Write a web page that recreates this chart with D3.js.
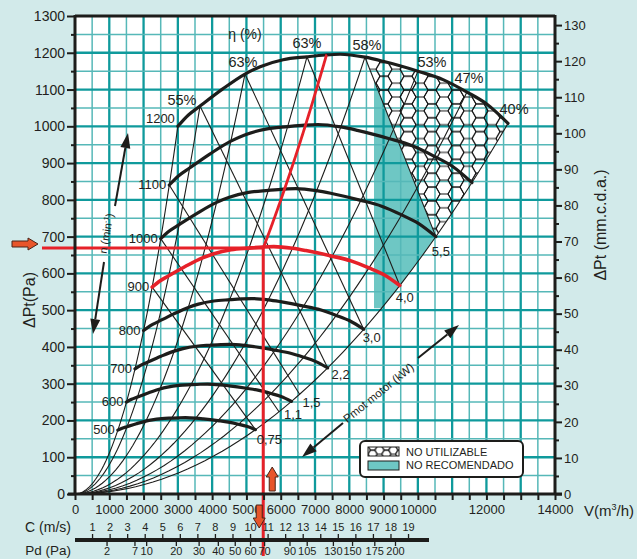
<!DOCTYPE html>
<html><head><meta charset="utf-8">
<script src="https://cdn.jsdelivr.net/npm/d3@7"></script>
<style>
html,body{margin:0;padding:0;background:#d2eaea;}
svg{display:block;font-family:"Liberation Sans",Arial,Helvetica,sans-serif;}
</style></head><body>
<svg id="c" width="637" height="559"></svg>
<script>
// ---------------- DATA ----------------
const speeds = [500, 600, 700, 800, 900, 1000, 1100, 1200];
const baseSpeed = 1200;
// fan curve at 1200 rpm (V m3/h, dPt Pa)
const curveQ = [3000, 3300, 3646, 4300, 4958, 5400, 6070, 6766, 7300, 7730, 8458, 8983, 10004, 10733, 11433, 12017, 12630];
const curveP = [1000, 1030, 1055, 1101, 1142, 1162, 1181, 1189, 1194, 1196, 1188, 1177, 1150, 1127, 1093, 1060, 1008];
// efficiency points on the 1200 rpm curve
const effLabels = ["", "55%", "63%", "63%", "58%", "53%", "47%", "40%"];
const effQ = [3000, 3646, 4958, 6766, 8458, 10004, 11433, 12630];
const effP = [1000, 1055, 1142, 1189, 1188, 1150, 1093, 1008];
// motor power points on the limit curve
const motorLabels = ["0,75", "1,1", "1,5", "2,2", "3,0", "4,0", "5,5"];
const motorQ = [5263, 5950, 6550, 7368, 8420, 9472, 10525];
// power lines: origin node (speed start or efficiency point) -> motor point (same order)
const powerFromSpeed = [900, 1000, 1100, null, null, null, null];
const powerFromEff = [null, null, null, 1, 2, 3, 4];
// selected operating point
const opQ = 5490, opP = 669, opSpeed = 900;
// "no recomendado" zone limits
const notRecQ = 8720, notRecMinP = 505;
// axes
const yTicks = d3.range(0, 1301, 100);
const yTicksR = d3.range(0, 131, 10);
const xTickLabels = [0, 1000, 2000, 3000, 4000, 5000, 6000, 7000, 8000, 9000, 10000, 12000, 14000];
const cTicks = d3.range(1, 20);
const pdTicks = [2, 7, 10, 20, 30, 40, 50, 60, 70, 90, 105, 130, 150, 175, 200];
const flowPerVelocity = 512;   // m3/h per m/s
const halfRho = 0.6;           // Pd = 0.6 C^2
const paPerMm = 9.81;

// ---------------- DRAW ----------------
const svg = d3.select("#c");
const L = 75, R = 555, T = 16, B = 494;
const x = d3.scaleLinear().domain([0, 14000]).range([L, R]);
const y = d3.scaleLinear().domain([0, 1300]).range([B, T]);
const yR = d3.scaleLinear().domain([0, 1300 / paPerMm]).range([B, T]);
const GRID_THICK = "#0f9a9c", GRID_THIN = "#56b8b8", TEAL = "#6ec7c4", RED = "#e62129", INK = "#1d1d1b", TXT = "#231f20";

const defs = svg.append("defs");
defs.append("clipPath").attr("id", "plot").append("rect").attr("x", L).attr("y", T).attr("width", R - L).attr("height", B - T);
function hexPattern(id, r, sw) {
  const h = Math.sqrt(3) * r, w = 3 * r;
  const p = defs.append("pattern").attr("id", id).attr("patternUnits", "userSpaceOnUse").attr("width", w).attr("height", h);
  [[0, 0], [w, 0], [0, h], [w, h], [1.5 * r, h / 2]].forEach(([cx, cy]) => {
    const pts = d3.range(6).map(i => { const a = Math.PI / 3 * i; return [cx + r * Math.cos(a), cy + r * Math.sin(a)]; });
    p.append("polygon").attr("points", pts.map(d => d.join(",")).join(" ")).attr("fill", "none").attr("stroke", "#111").attr("stroke-width", sw);
  });
}
hexPattern("hex", 8, 1);
hexPattern("hexs", 4.6, 1);

svg.append("rect").attr("x", L).attr("y", T).attr("width", R - L).attr("height", B - T).attr("fill", "#fff");

const lineL = d3.line().x(d => x(d[0])).y(d => y(d[1]));
const lineC = d3.line().x(d => x(d[0])).y(d => y(d[1])).curve(d3.curveMonotoneX);
const kB = effP[effP.length - 1] / Math.pow(effQ[effQ.length - 1], 2);
const bound = q => kB * q * q;
function speedPts(s) { const r = s / baseSpeed; return curveQ.map((q, i) => [q * r, curveP[i] * r * r]); }
function startNode(s) { const r = s / baseSpeed; return [effQ[0] * r, effP[0] * r * r]; }

const gPlot = svg.append("g").attr("clip-path", "url(#plot)");

// not recommended zone
const A = [effQ[4], effP[4]], Bn = [motorQ[6], bound(motorQ[6])];
const tA = (notRecQ - A[0]) / (Bn[0] - A[0]);
const topP = A[1] + tA * (Bn[1] - A[1]);
const qMin = Math.sqrt(notRecMinP / kB);
const tealPts = [[notRecQ, topP], Bn];
d3.range(40).forEach(i => { const q = Bn[0] - (Bn[0] - qMin) * (i + 1) / 40; tealPts.push([q, bound(q)]); });
tealPts.push([notRecQ, notRecMinP]);
gPlot.append("path").attr("d", lineL(tealPts) + "Z").attr("fill", TEAL);

// grid
const gGrid = gPlot.append("g");
d3.range(500, 14000, 500).forEach(v => {
  const thick = v % 1000 === 0;
  gGrid.append("line").attr("x1", x(v)).attr("x2", x(v)).attr("y1", T).attr("y2", B)
    .attr("stroke", thick ? GRID_THICK : GRID_THIN).attr("stroke-width", thick ? 2.3 : 1.5);
});
d3.range(50, 1300, 50).forEach(v => {
  const thick = v % 100 === 0;
  gGrid.append("line").attr("y1", y(v)).attr("y2", y(v)).attr("x1", L).attr("x2", R)
    .attr("stroke", thick ? GRID_THICK : GRID_THIN).attr("stroke-width", thick ? 2.3 : 1.5);
});

// not usable zone (hex)
const topCurve = lineC(curveQ.slice(10).map((q, i) => [q, curveP[10 + i]]));
const bPts = d3.range(41).map(i => { const q = effQ[7] - (effQ[7] - Bn[0]) * i / 40; return [q, bound(q)]; });
const hexD = "M" + x(Bn[0]) + "," + y(Bn[1]) + "L" + x(A[0]) + "," + y(A[1]) + topCurve.replace(/^M/, "L") + lineL(bPts).replace(/^M/, "L") + "Z";
gPlot.append("path").attr("d", hexD).attr("fill", "url(#hex)");

// thin lines: system parabolas through efficiency points
const gThin = gPlot.append("g").attr("fill", "none").attr("stroke", INK).attr("stroke-width", 1.1);
effQ.forEach((q, i) => {
  const pts = d3.range(0, 1.0001, 0.02).map(t => [q * t, effP[i] * t * t]);
  gThin.append("path").attr("d", lineL(pts));
});
// power lines
motorQ.forEach((mq, i) => {
  const from = powerFromSpeed[i] !== null ? startNode(powerFromSpeed[i]) : [effQ[powerFromEff[i]], effP[powerFromEff[i]]];
  gThin.append("path").attr("d", lineL([from, [mq, bound(mq)]]));
});

// speed curves
speeds.forEach(s => {
  gPlot.append("path").attr("d", lineC(speedPts(s))).attr("fill", "none")
    .attr("stroke", s === opSpeed ? RED : INK).attr("stroke-width", s === opSpeed ? 3.6 : 3.2).attr("stroke-linecap", "round");
});

// operating point red lines
function curveAt(q) {
  for (let i = 1; i < curveQ.length; i++) if (q <= curveQ[i]) { const t = (q - curveQ[i - 1]) / (curveQ[i] - curveQ[i - 1]); return curveP[i - 1] + t * (curveP[i] - curveP[i - 1]); }
  return curveP[curveP.length - 1];
}
const sys = [];
for (let q = opQ; q < 12000; q += 20) { const p = opP * Math.pow(q / opQ, 2); if (p >= curveAt(q)) { sys.push([q, curveAt(q)]); break; } sys.push([q, p]); }
svg.append("path").attr("d", lineL(sys)).attr("fill", "none").attr("stroke", RED).attr("stroke-width", 2.8);
svg.append("line").attr("x1", 42).attr("x2", x(opQ)).attr("y1", y(opP)).attr("y2", y(opP)).attr("stroke", RED).attr("stroke-width", 2.8);
svg.append("line").attr("x1", x(opQ)).attr("x2", x(opQ)).attr("y1", y(opP)).attr("y2", 556).attr("stroke", RED).attr("stroke-width", 3);

// ---------------- AXES ----------------
function styleAxis(g, fs) {
  g.select(".domain").remove();
  g.selectAll(".tick line").attr("stroke", INK).attr("stroke-width", 2);
  g.selectAll(".tick text").attr("fill", TXT).attr("font-size", fs);
}
const fmt = d => String(d);
const axL = svg.append("g").attr("transform", `translate(${L},0)`).call(d3.axisLeft(y).tickValues(yTicks).tickSize(8).tickPadding(2).tickFormat(fmt));
styleAxis(axL, 14);
const axLm = svg.append("g").attr("transform", `translate(${L},0)`).call(d3.axisLeft(y).tickValues(d3.range(50, 1300, 100)).tickSize(4).tickFormat(""));
styleAxis(axLm, 14);
const axR = svg.append("g").attr("transform", `translate(${R},0)`).call(d3.axisRight(yR).tickValues(yTicksR).tickSize(7).tickPadding(2).tickFormat(fmt));
styleAxis(axR, 13);
const axRm = svg.append("g").attr("transform", `translate(${R},0)`).call(d3.axisRight(yR).tickValues(d3.range(5, 131, 10)).tickSize(4).tickFormat(""));
styleAxis(axRm, 13);
const axB = svg.append("g").attr("transform", `translate(0,${B})`).call(d3.axisBottom(x).tickValues(d3.range(0, 14001, 500)).tickSize(6).tickPadding(5)
  .tickFormat(d => xTickLabels.includes(d) ? String(d) : ""));
styleAxis(axB, 13);
// frame
const frame = svg.append("g").attr("stroke", INK).attr("stroke-width", 3).attr("fill", "none");
frame.append("line").attr("x1", L).attr("x2", R).attr("y1", T).attr("y2", T);
frame.append("line").attr("x1", L).attr("x2", L).attr("y1", T - 1).attr("y2", B);
frame.append("line").attr("x1", R).attr("x2", R).attr("y1", T - 1).attr("y2", B);
frame.append("line").attr("x1", L - 7).attr("x2", R + 7).attr("y1", B).attr("y2", B);

svg.append("text").attr("transform", "translate(35,300) rotate(-90)").attr("text-anchor", "middle").attr("font-size", 16).attr("fill", TXT).text("ΔPt(Pa)");
svg.append("text").attr("transform", "translate(606,225) rotate(-90)").attr("text-anchor", "middle").attr("font-size", 16).attr("fill", TXT).text("ΔPt (mm.c.d.a.)");
const vt = svg.append("text").attr("x", 584).attr("y", 516).attr("font-size", 15).attr("fill", TXT);
vt.append("tspan").text("V(m");
vt.append("tspan").attr("font-size", 9).attr("dy", -6).text("3");
vt.append("tspan").attr("dy", 6).text("/h)");

// ---------------- C / Pd scale ----------------
const cx = c => x(c * flowPerVelocity);
const pdx = pd => cx(Math.sqrt(pd / halfRho));
const scaleY = 540;
svg.append("line").attr("x1", L).attr("x2", 429).attr("y1", scaleY).attr("y2", scaleY).attr("stroke", INK).attr("stroke-width", 4);
cTicks.forEach(c => {
  svg.append("line").attr("x1", cx(c)).attr("x2", cx(c)).attr("y1", scaleY - 6).attr("y2", scaleY).attr("stroke", INK).attr("stroke-width", 1.3);
  svg.append("text").attr("x", cx(c)).attr("y", 531).attr("text-anchor", "middle").attr("font-size", 11).attr("fill", TXT).text(c);
});
pdTicks.forEach(p => {
  svg.append("line").attr("x1", pdx(p)).attr("x2", pdx(p)).attr("y1", scaleY).attr("y2", scaleY + 6).attr("stroke", INK).attr("stroke-width", 1.3);
  svg.append("text").attr("x", pdx(p)).attr("y", 555).attr("text-anchor", "middle").attr("font-size", 11).attr("fill", TXT).text(p);
});
svg.append("text").attr("x", 71).attr("y", 532).attr("text-anchor", "end").attr("font-size", 14).attr("fill", TXT).text("C (m/s)");
svg.append("text").attr("x", 71).attr("y", 555).attr("text-anchor", "end").attr("font-size", 13.5).attr("fill", TXT).text("Pd (Pa)");

// ---------------- LABELS ----------------
speeds.forEach(s => {
  const n = startNode(s);
  svg.append("text").attr("x", x(n[0]) - 3).attr("y", y(n[1]) + (s === baseSpeed ? -3 : 4))
    .attr("text-anchor", "end").attr("font-size", 13).attr("fill", TXT).text(s);
});
const effOff = [[0, 0], [-18, -6], [-2, -12], [0, -14], [2, -12], [14, -9], [2, -14], [6, -14]];
effLabels.forEach((t, i) => {
  if (!t) return;
  svg.append("text").attr("x", x(effQ[i]) + effOff[i][0]).attr("y", y(effP[i]) + effOff[i][1] + 5)
    .attr("text-anchor", "middle").attr("font-size", 14.5).attr("fill", TXT).text(t);
});
svg.append("text").attr("x", x(effQ[2])).attr("y", 39).attr("text-anchor", "middle").attr("font-size", 14).attr("fill", TXT).text("η (%)");
const motOff = [[14, 9], [14, 2], [12, 8], [13, 6], [8, 8], [5, 11], [5, 14]];
motorLabels.forEach((t, i) => {
  svg.append("text").attr("x", x(motorQ[i]) + motOff[i][0]).attr("y", y(bound(motorQ[i])) + motOff[i][1] + 5)
    .attr("text-anchor", "middle").attr("font-size", 13).attr("fill", TXT).text(t);
});

// ---------------- ANNOTATIONS ----------------
function arrow(x0, y0, x1, y1) {
  const a = Math.atan2(y1 - y0, x1 - x0), hl = 15, hw = 5;
  const bx = x1 - hl * Math.cos(a), by = y1 - hl * Math.sin(a);
  svg.append("line").attr("x1", x0).attr("y1", y0).attr("x2", bx).attr("y2", by).attr("stroke", INK).attr("stroke-width", 2);
  svg.append("polygon").attr("points", [[x1, y1], [bx + hw * Math.sin(a), by - hw * Math.cos(a)], [bx - hw * Math.sin(a), by + hw * Math.cos(a)]].map(d => d.join(",")).join(" ")).attr("fill", INK);
}
arrow(115, 206, 128, 133);
arrow(104, 262, 93, 334);
const nt = svg.append("text").attr("transform", "translate(110,234) rotate(-80)").attr("text-anchor", "middle").attr("font-size", 11).attr("fill", TXT);
nt.append("tspan").text("n (min");
nt.append("tspan").attr("font-size", 7).attr("dy", -4).text("-1");
nt.append("tspan").attr("dy", 4).text(")");
arrow(418, 358, 459, 325);
arrow(343, 423, 302, 457);
svg.append("text").attr("transform", "translate(381,396) rotate(-39)").attr("text-anchor", "middle").attr("font-size", 11.5).attr("fill", TXT).text("Pmot motor (kW)");

// orange block arrows
function blockArrow(tx, ty, ang, len) {
  const bw = 3, hw = 6, hl = 10;
  const pts = [[0, 0], [-hl, -hw], [-hl, -bw], [-len, -bw], [-len, bw], [-hl, bw], [-hl, hw]];
  svg.append("polygon").attr("points", pts.map(d => d.join(",")).join(" "))
    .attr("transform", `translate(${tx},${ty}) rotate(${ang})`)
    .attr("fill", "#e8552a").attr("stroke", "#4a2418").attr("stroke-width", 1);
}
blockArrow(38, y(opP) - 4, 0, 26);
blockArrow(x(opQ) + 9, 467, -90, 24);
blockArrow(x(opQ) - 4, 528, 90, 23);

// legend
const lg = svg.append("g");
lg.append("rect").attr("x", 360).attr("y", 441).attr("width", 163).attr("height", 36).attr("rx", 5)
  .attr("fill", "#fff").attr("stroke", INK).attr("stroke-width", 2);
lg.append("rect").attr("x", 368).attr("y", 447).attr("width", 31).attr("height", 9).attr("fill", "url(#hexs)").attr("stroke", INK).attr("stroke-width", 1);
lg.append("rect").attr("x", 368).attr("y", 461).attr("width", 31).attr("height", 9).attr("fill", TEAL).attr("stroke", INK).attr("stroke-width", 1);
lg.append("text").attr("x", 406).attr("y", 456).attr("font-size", 11).attr("fill", TXT).text("NO UTILIZABLE");
lg.append("text").attr("x", 406).attr("y", 469).attr("font-size", 11).attr("fill", TXT).text("NO RECOMENDADO");
</script>
</body></html>
